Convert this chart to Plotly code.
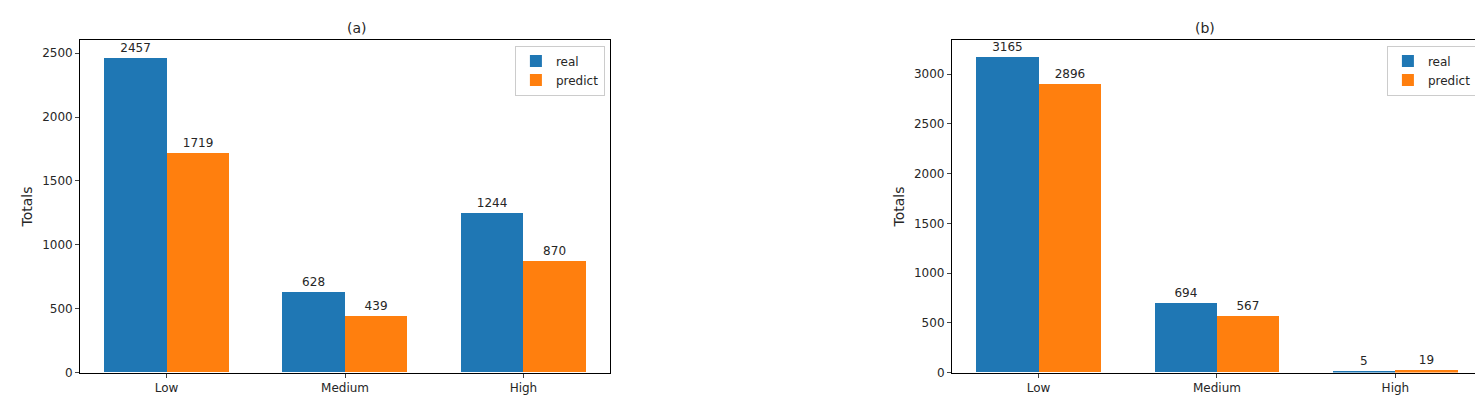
import plotly.graph_objects as go

categories = ["Low", "Medium", "High"]
real_a = [2457, 628, 1244]
pred_a = [1719, 439, 870]
real_b = [3165, 694, 5]
pred_b = [2896, 567, 19]

BLUE = "#1f77b4"; ORANGE = "#ff7f0e"
w = 0.35
idx = list(range(len(categories)))
fig = go.Figure()
for k, (r, p, leg) in enumerate([(real_a, pred_a, "legend"), (real_b, pred_b, "legend2")]):
    xa = "x" if k == 0 else "x2"; ya = "y" if k == 0 else "y2"
    for vals, name, col, off in [(r, "real", BLUE, -w/2), (p, "predict", ORANGE, w/2)]:
        fig.add_trace(go.Bar(x=[i + off for i in idx], y=vals, width=w, name=name,
                             marker=dict(color=col, line=dict(width=0)),
                             text=[str(v) for v in vals], textposition="outside",
                             textfont=dict(size=12, color="#262626"), cliponaxis=False,
                             xaxis=xa, yaxis=ya, legend=leg))

ax = dict(showgrid=False, zeroline=False, showline=True, linecolor="black", mirror=True,
          ticks="outside", ticklen=4, tickfont=dict(size=12, color="#262626"))
fig.update_layout(
    width=1483, height=403, margin=dict(l=0, r=0, t=0, b=0),
    plot_bgcolor="white", paper_bgcolor="white",
    font=dict(family="DejaVu Sans", size=12, color="#262626"),
    barmode="overlay", bargap=0,
    xaxis=dict(domain=[0.0486, 0.4059], range=[-0.485, 2.485], tickvals=idx, ticktext=categories, anchor="y", **ax),
    yaxis=dict(domain=[0.0794, 0.918], range=[0, 2600], dtick=500, anchor="x",
               title=dict(text="Totals", standoff=6), **ax),
    xaxis2=dict(domain=[0.6365, 0.9939], range=[-0.485, 2.485], tickvals=idx, ticktext=categories, anchor="y2", **ax),
    yaxis2=dict(domain=[0.0794, 0.918], range=[0, 3340], dtick=500, anchor="x2",
                title=dict(text="Totals", standoff=6), **ax),
    legend=dict(x=0.4025, y=0.905, xanchor="right", yanchor="top", bordercolor="#cccccc", borderwidth=1,
                font=dict(size=12), bgcolor="white"),
    legend2=dict(x=0.9905, y=0.905, xanchor="right", yanchor="top", bordercolor="#cccccc", borderwidth=1,
                 font=dict(size=12), bgcolor="white"),
    annotations=[
        dict(text="(a)", x=0.2272, y=0.925, xref="paper", yref="paper", showarrow=False, yanchor="bottom", font=dict(size=14)),
        dict(text="(b)", x=0.8152, y=0.925, xref="paper", yref="paper", showarrow=False, yanchor="bottom", font=dict(size=14)),
    ],
)
fig.write_html("out.html")
